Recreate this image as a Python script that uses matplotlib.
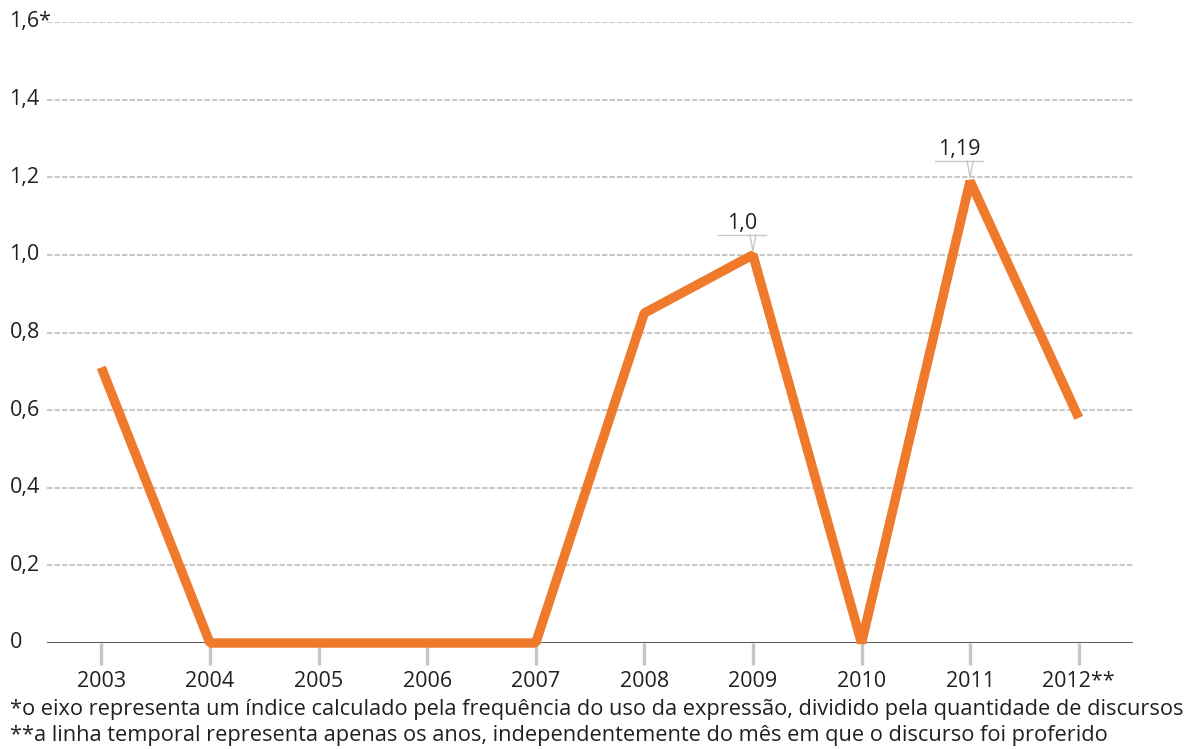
import matplotlib
matplotlib.use("Agg")
import matplotlib.pyplot as plt
from matplotlib.lines import Line2D

plt.rcParams['font.family'] = ['Open Sans', 'DejaVu Sans']

years = [2003, 2004, 2005, 2006, 2007, 2008, 2009, 2010, 2011, 2012]
year_labels = ["2003", "2004", "2005", "2006", "2007", "2008", "2009", "2010", "2011", "2012**"]
index = [0.71, 0.0, 0.0, 0.0, 0.0, 0.85, 1.0, 0.0, 1.19, 0.58]
y_ticks = [0, 0.2, 0.4, 0.6, 0.8, 1.0, 1.2, 1.4, 1.6]
y_labels = ["0", "0,2", "0,4", "0,6", "0,8", "1,0", "1,2", "1,4", "1,6*"]
callouts = [(2009, 1.0, "1,0"), (2011, 1.19, "1,19")]

ORANGE = "#f07a2c"
GRID = "#c8c8c8"
TEXT = "#231f20"

fig = plt.figure(figsize=(11.95, 7.49), dpi=100)
# y=0 sits at 643 px, one unit is about 388 px
ax = fig.add_axes([47 / 1195, 1 - 643 / 749, (1133 - 47) / 1195, 621 / 749])

ax.set_xlim(2002.5, 2012.5)
ax.set_ylim(0, 1.6)

# dashed horizontal guides
for v in y_ticks[1:]:
    ax.axhline(v, color=GRID, lw=1.5, ls=(0, (2.6, 1.0)), zorder=1)
ax.axhline(0, color="#3a3a3a", lw=1.2, zorder=2)

ax.plot(years, index, color=ORANGE, lw=6.8, solid_joinstyle="bevel",
        solid_capstyle="butt", zorder=3, clip_on=False)

for s in ax.spines.values():
    s.set_visible(False)

ax.set_yticks(y_ticks)
ax.set_yticklabels(y_labels)
ax.tick_params(axis="y", length=0, pad=27, labelsize=15.5, labelcolor=TEXT)
for lab in ax.get_yticklabels():
    lab.set_ha("left")
    lab.set_va("center")

ax.set_xticks(years)
ax.set_xticklabels(year_labels)
ax.tick_params(axis="x", length=16, width=2.4, color="#c6c6c6", pad=4,
               labelsize=15.5, labelcolor=TEXT)

# value callouts: text with an underline and a small pointer to the point
fig.canvas.draw()
to_fig = fig.transFigure.inverted()
for x, y, txt in callouts:
    px, py = ax.transData.transform((x, y))
    cx = px - 11
    ly = py + 20
    pts = [(cx - 24, ly), (cx + 24, ly)]
    vx = [(px - 3, ly), (px, py + 4), (px + 3, ly)]
    for seg in (pts, vx):
        fx = [to_fig.transform(p)[0] for p in seg]
        fy = [to_fig.transform(p)[1] for p in seg]
        fig.add_artist(Line2D(fx, fy, color=GRID, lw=1.0))
    tx, ty = to_fig.transform((cx, ly + 1))
    fig.text(tx, ty, txt, ha="center", va="bottom", fontsize=15.5, color=TEXT)

fig.text(10 / 1195, 1 - 709 / 749,
         "*o eixo representa um índice calculado pela frequência do uso da expressão, dividido pela quantidade de discursos",
         ha="left", va="center", fontsize=15.7, color=TEXT)
fig.text(10 / 1195, 1 - 736 / 749,
         "**a linha temporal representa apenas os anos, independentemente do mês em que o discurso foi proferido",
         ha="left", va="center", fontsize=15.7, color=TEXT)

fig.savefig("out.png", dpi=100, facecolor="white")
